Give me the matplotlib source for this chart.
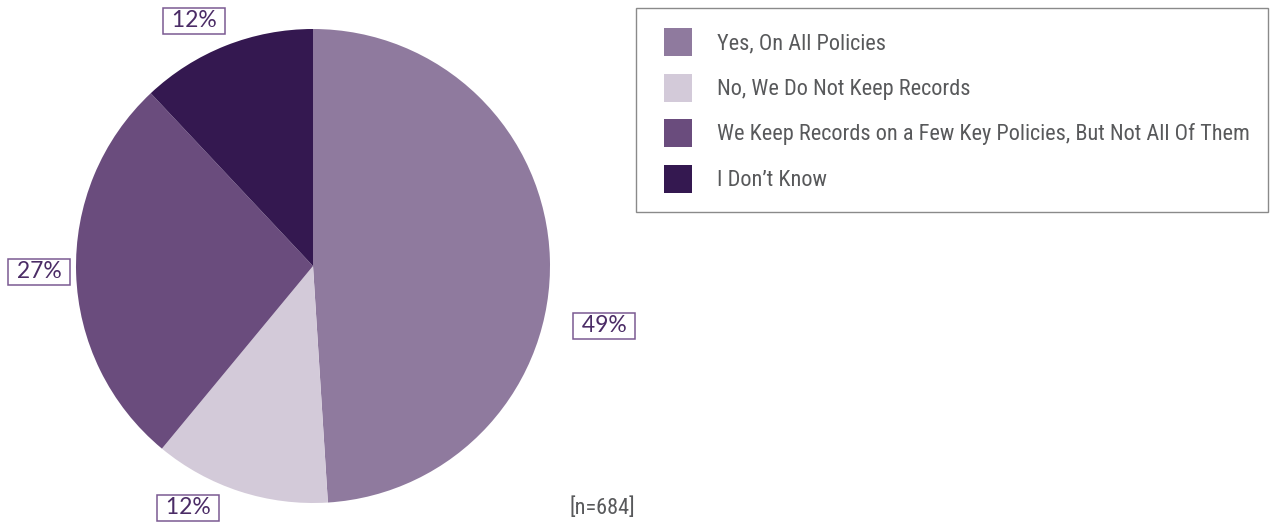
import matplotlib
matplotlib.use('Agg')
import matplotlib.pyplot as plt
from matplotlib import font_manager
from matplotlib.patches import Rectangle

labels = ['Yes, On All Policies',
          'No, We Do Not Keep Records',
          'We Keep Records on a Few Key Policies, But Not All Of Them',
          "I Don\u2019t Know"]
shares = [49, 12, 27, 12]
pct_labels = ['49%', '12%', '27%', '12%']
colors = ['#8f7a9e', '#d3cad9', '#6a4c7d', '#341850']
sample_note = '[n=684]'

# label anchor points in pie data units (radius = 1)
label_pos = [(1.228, -0.253), (-0.527, -1.021), (-1.156, -0.025), (-0.502, 1.034)]

# pick a condensed face if one is around, else a plain narrow-ish sans
installed = {f.name: f for f in font_manager.fontManager.ttflist}
narrow, narrow_size = 'Roboto', 14.5
for name in ['Liberation Sans Narrow', 'Roboto Condensed', 'Open Sans Condensed',
             'DejaVu Sans Condensed', 'Arial Narrow']:
    if name in installed:
        narrow, narrow_size = name, 16
        break

W, H = 1270, 522
fig = plt.figure(figsize=(W / 100, H / 100), dpi=100)
ax = fig.add_axes([76 / W, 19 / H, 474 / W, 474 / H])
wedges, _ = ax.pie(shares, colors=colors, startangle=90, counterclock=False,
                   radius=1, wedgeprops=dict(linewidth=0))
ax.set_xlim(-1, 1)
ax.set_ylim(-1, 1)
ax.set_aspect('equal')
ax.axis('off')

# spaces either side give the wide boxes of the original
for txt, (x, y) in zip(pct_labels, label_pos):
    ax.text(x, y, f' {txt} ', ha='center', va='center', fontsize=16.5,
            family='Lato', color='#4b2c66', clip_on=False,
            bbox=dict(boxstyle='square,pad=0.12', fc='white',
                      ec='#7a5a92', lw=1.1))

ax.text(1.22, -1.021, sample_note, ha='center', va='center',
        fontsize=narrow_size, family=narrow, color='#58595b', clip_on=False)

# legend frame drawn separately so the inner padding can differ per side
fig.patches.append(Rectangle((636 / W, 1 - 212 / H), 632 / W, 204 / H,
                             transform=fig.transFigure, fc='white',
                             ec='#8a8a8a', lw=1, zorder=0))

fs_px = narrow_size * 100 / 72
hh = (28 / fs_px - 0.245) / 0.65
leg = fig.legend(wedges, labels, loc='upper left',
                 bbox_to_anchor=(664 / W, 1 - 28 / H),
                 prop={'family': narrow, 'size': narrow_size},
                 labelcolor='#58595b', handlelength=28 / fs_px,
                 handleheight=hh, handletextpad=25 / fs_px,
                 labelspacing=17.6 / fs_px, borderpad=0, borderaxespad=0,
                 frameon=False)

fig.savefig('out.png', dpi=100)
